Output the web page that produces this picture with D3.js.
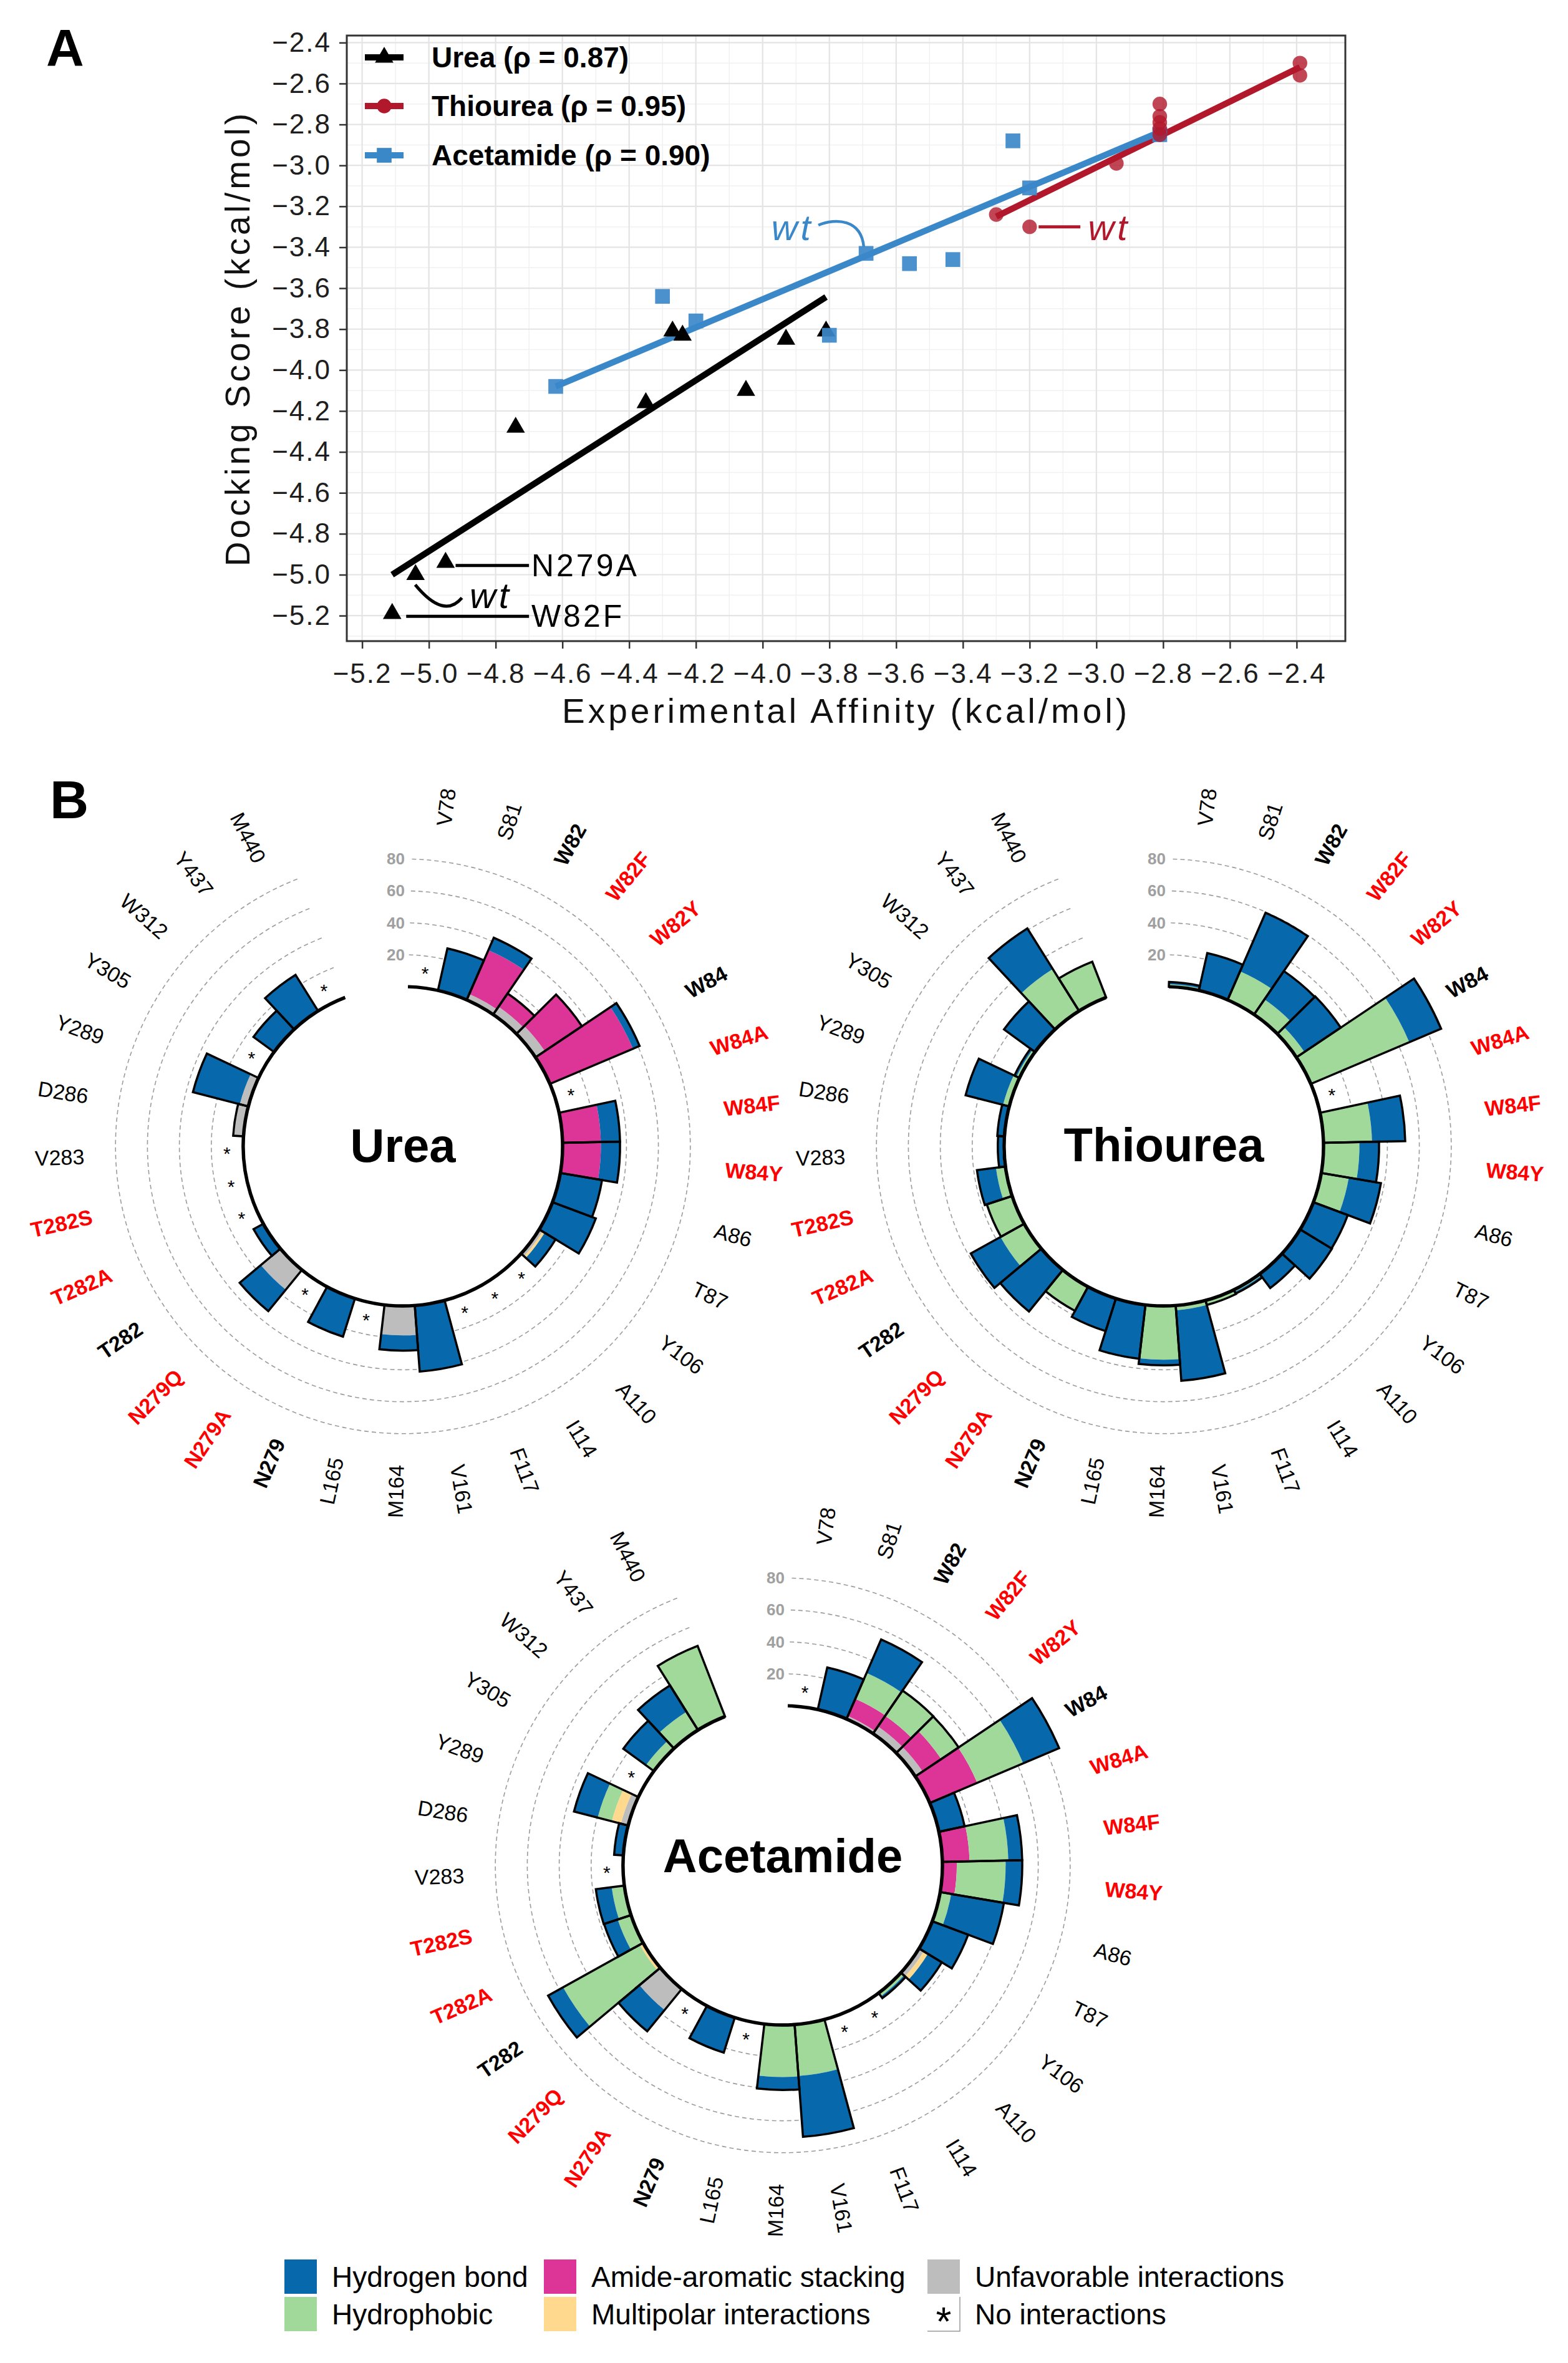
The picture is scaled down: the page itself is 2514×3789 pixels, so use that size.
<!DOCTYPE html>
<html><head><meta charset="utf-8">
<script src="https://cdn.jsdelivr.net/npm/d3@7"></script>
<style>
body{margin:0;background:#fff}
svg{display:block}
text{font-family:"Liberation Sans",Arial,Helvetica,sans-serif}
</style>
</head><body>
<svg id="fig" width="2514" height="3789"></svg>
<script>
// ================= Panel A data =================
const ureaX = [-5.11, -5.04, -4.95, -4.74, -4.35, -4.27, -4.24, -4.05, -3.93, -3.81];
const ureaY = [-5.19, -5.00, -4.94, -4.28, -4.16, -3.81, -3.83, -4.10, -3.85, -3.81];
const thioX = [-3.30, -3.20, -2.94, -2.81, -2.81, -2.81, -2.81, -2.81, -2.39, -2.39];
const thioY = [-3.24, -3.30, -2.99, -2.70, -2.76, -2.79, -2.82, -2.85, -2.50, -2.56];
const acetX = [-4.62, -4.30, -4.20, -3.80, -3.69, -3.56, -3.43, -3.25, -3.20, -2.81];
const acetY = [-4.08, -3.64, -3.76, -3.83, -3.43, -3.48, -3.46, -2.88, -3.11, -2.85];
// regression line end points (x, y)
const fitUreaX = [-5.11, -3.81], fitUreaY = [-5.00, -3.643];
const fitThioX = [-3.30, -2.39], fitThioY = [-3.25, -2.52];
const fitAcetX = [-4.62, -2.80], fitAcetY = [-4.08, -2.83];
const seriesNames = ["Urea (\u03C1 = 0.87)", "Thiourea (\u03C1 = 0.95)", "Acetamide (\u03C1 = 0.90)"];
const axisTicks = [-5.2, -5.0, -4.8, -4.6, -4.4, -4.2, -4.0, -3.8, -3.6, -3.4, -3.2, -3.0, -2.8, -2.6, -2.4];

// ================= Panel B data =================
const residues = ["V78","S81","W82","W82F","W82Y","W84","W84A","W84F","W84Y","A86","T87","Y106","A110","I114","F117",
  "V161","M164","L165","N279","N279A","N279Q","T282","T282A","T282S","V283","D286","Y289","Y305","W312","Y437","M440"];
const mutantResidues = ["W82F","W82Y","W84A","W84F","W84Y","N279A","N279Q","T282A","T282S"];
const wildtypeResidues = ["W82","W84","N279","T282"];
const interactionKeys = ["UF","MP","AA","HP","HB"];
const interactionNames = ["Unfavorable interactions","Multipolar interactions","Amide-aromatic stacking","Hydrophobic","Hydrogen bond"];
const radialTicks = [20, 40, 60, 80];

// Urea
const ureaUF = [0,0,4,6,7,0,0,0,0,0,0,2.5,0,0,0,0,18.5,0,0,0,16,0,0,0,0,6.5,5.5,0,0,0,0];
const ureaMP = [0,0,0,0,0,0,0,0,0,0,0,1.5,0,0,0,0,0,0,0,0,0,0,0,0,0,0,0,0,0,0,0];
const ureaAA = [0,0,30,10,28,56.5,0,24,24,0,0,0,0,0,0,0,0,0,0,0,0,0,0,0,0,0,0,0,0,0,0];
const ureaHP = [0,0,0,0,0,0,0,0,0,0,0,0,0,0,0,0,0,0,0,0,0,0,0,0,0,0,0,0,0,0,0];
const ureaHB = [0,27,8.5,0,0,4.5,0,12,12,26.5,29,8,0,0,0,41.5,9.5,0,25,0,17.3,7,0,0,0,0,30.3,0,16,26.7,0];
// Thiourea
const thioUF = [0,0,0,0,0,0,0,0,0,0,0,0,0,0,0,0,0,0,0,0,0,0,0,0,0,0,0,0,0,0,0];
const thioMP = [0,0,0,0,0,0,0,0,0,0,0,0,0,0,0,0,0,0,0,0,0,0,0,0,0,0,0,0,0,0,0];
const thioAA = [0,0,0,0,0,0,0,0,0,0,0,0,0,0,0,0,0,0,0,0,0,0,0,0,0,0,0,0,0,0,0];
const thioHP = [1.5,0,19.5,11.5,6,67,0,30.4,22.5,17.5,0,0,0,1.5,3,3,33.7,0,0,17.2,0,17,16.7,6,1,0,4,2,0,31,24];
const thioHB = [1.5,24,40,21.5,27.4,21.6,0,20.8,12.3,20.4,23,23.3,11,1.2,0,44.3,3.5,34,21.4,0,33.6,21.3,0,12,3,4.5,24.2,1.5,24,30,0];
// Acetamide
const acetUF = [0,0,2,5.5,5.5,0,0,0,0,0,0,3.5,0,0,0,0,0,0,0,0,17,0,0,0,0,0,4.7,0,0,0,0];
const acetMP = [0,0,0,0,0,0,0,0,0,0,0,3,0,0,0,0,0,0,0,0,0,2.5,0,0,0,0,5.9,0,0,0,0];
const acetAA = [0,0,11.8,8,14,32.3,0,17,9,0,0,0,0,0,0,0,0,0,0,0,0,0,0,0,0,0,0,0,0,0,0];
const acetHP = [0,0,17.6,19.2,13.1,31.3,0,24.3,30.6,7,0,0,2.5,0,0,32.3,32.6,0,0,0,0,54.9,8.8,8,0,0,9.1,0,6.2,13.5,47.4];
const acetHB = [0,27,22.9,0,0,24.4,16.5,8.7,10.4,33.5,24,10.2,1.5,0,0,38.2,8.1,0,23,0,17.2,10.7,9,10,0,5.8,15.3,0,17.5,19.5,0];

// ================= styles =================
const colInter = {UF:"#BDBDBD", MP:"#FED98E", AA:"#DD3497", HP:"#A1D99B", HB:"#0868AC"};
const colUrea = "#000000", colThio = "#B2182B", colAcet = "#3B88C9";

const svg = d3.select("#fig");
svg.append("rect").attr("width",2514).attr("height",3789).attr("fill","#fff");

// ================= Panel A =================
(function(){
  const allX = ureaX.concat(thioX, acetX), allY = ureaY.concat(thioY, acetY);
  const [xa, xb] = d3.extent(allX), [ya, yb] = d3.extent(allY);
  const xr = xb - xa, yr = yb - ya;
  const L = 556, R = 2157, T = 57, B = 1028;
  const x = d3.scaleLinear().domain([xa - 0.05*xr, xb + 0.05*xr]).range([L, R]);
  const y = d3.scaleLinear().domain([ya - 0.05*yr, yb + 0.05*yr]).range([B, T]);
  const g = svg.append("g");

  const minor = d3.range(16).map(i => -5.3 + 0.2*i);
  const xd = x.domain(), yd = y.domain();
  g.selectAll(".mgx").data(minor.filter(v => v > xd[0] && v < xd[1])).join("line")
    .attr("x1", d => x(d)).attr("x2", d => x(d)).attr("y1", T).attr("y2", B)
    .attr("stroke", "#f1f1f1").attr("stroke-width", 1.5);
  g.selectAll(".mgy").data(minor.filter(v => v > yd[0] && v < yd[1])).join("line")
    .attr("y1", d => y(d)).attr("y2", d => y(d)).attr("x1", L).attr("x2", R)
    .attr("stroke", "#f1f1f1").attr("stroke-width", 1.5);
  g.selectAll(".gx").data(axisTicks).join("line")
    .attr("x1", d => x(d)).attr("x2", d => x(d)).attr("y1", T).attr("y2", B)
    .attr("stroke", "#e4e4e4").attr("stroke-width", 2.2);
  g.selectAll(".gy").data(axisTicks).join("line")
    .attr("y1", d => y(d)).attr("y2", d => y(d)).attr("x1", L).attr("x2", R)
    .attr("stroke", "#e4e4e4").attr("stroke-width", 2.2);

  // axes
  const fmt = d3.format(".1f");
  const ax = g.append("g").attr("transform", `translate(0,${B})`)
    .call(d3.axisBottom(x).tickValues(axisTicks).tickSize(12).tickPadding(24).tickFormat(fmt));
  const ay = g.append("g").attr("transform", `translate(${L},0)`)
    .call(d3.axisLeft(y).tickValues(axisTicks).tickSize(12).tickPadding(13).tickFormat(fmt));
  [ax, ay].forEach(a => {
    a.select(".domain").remove();
    a.selectAll(".tick line").attr("stroke", "#333").attr("stroke-width", 2.5);
    a.selectAll(".tick text").attr("font-size", 44).attr("fill", "#1e1e1e")
      .attr("font-family", "'Liberation Sans',Arial,sans-serif").style("letter-spacing", "2px");
  });

  g.append("rect").attr("x", L).attr("y", T).attr("width", R - L).attr("height", B - T)
    .attr("fill", "none").attr("stroke", "#333").attr("stroke-width", 3);

  // axis titles
  g.append("text").attr("x", (L + R)/2).attr("y", 1159).attr("text-anchor", "middle")
    .attr("font-size", 55).style("letter-spacing", "5px").attr("fill", "#111")
    .text("Experimental Affinity (kcal/mol)");
  g.append("text").attr("transform", `translate(381,${(T + B)/2}) rotate(-90)`)
    .attr("text-anchor", "middle").attr("dominant-baseline", "central")
    .attr("font-size", 55).style("letter-spacing", "5px").attr("fill", "#111")
    .text("Docking Score (kcal/mol)");

  // regression lines
  const line = d3.line().x(d => x(d[0])).y(d => y(d[1]));
  const fits = [
    [d3.zip(fitUreaX, fitUreaY), colUrea],
    [d3.zip(fitThioX, fitThioY), colThio],
    [d3.zip(fitAcetX, fitAcetY), colAcet]];
  fits.forEach(([pts, c]) => g.append("path").attr("d", line(pts)).attr("fill", "none")
    .attr("stroke", c).attr("stroke-width", 10));

  // annotations
  const annot = g.append("g");
  annot.append("line").attr("x1", x(-4.92)).attr("x2", x(-4.70)).attr("y1", y(-4.955)).attr("y2", y(-4.955))
    .attr("stroke", "#000").attr("stroke-width", 5);
  annot.append("text").attr("x", x(-4.693)).attr("y", y(-4.955)).attr("dominant-baseline", "central")
    .attr("font-size", 50).style("letter-spacing", "4px").text("N279A");
  annot.append("line").attr("x1", x(-5.068)).attr("x2", x(-4.70)).attr("y1", y(-5.203)).attr("y2", y(-5.203))
    .attr("stroke", "#000").attr("stroke-width", 5);
  annot.append("text").attr("x", x(-4.693)).attr("y", y(-5.203)).attr("dominant-baseline", "central")
    .attr("font-size", 50).style("letter-spacing", "4px").text("W82F");
  const pb = d3.path();
  pb.moveTo(x(-5.041), y(-5.049)); pb.quadraticCurveTo(x(-4.955), y(-5.219), x(-4.901), y(-5.113));
  annot.append("path").attr("d", pb.toString()).attr("fill", "none").attr("stroke", "#000").attr("stroke-width", 5);
  annot.append("text").attr("x", x(-4.878)).attr("y", y(-5.102)).attr("dominant-baseline", "central")
    .attr("font-size", 58).attr("font-style", "italic").style("letter-spacing", "5px").text("wt");
  const pbl = d3.path();
  pbl.moveTo(x(-3.833), y(-3.292)); pbl.bezierCurveTo(x(-3.78), y(-3.255), x(-3.705), y(-3.265), x(-3.697), y(-3.397));
  annot.append("path").attr("d", pbl.toString()).attr("fill", "none").attr("stroke", colAcet).attr("stroke-width", 4.5);
  annot.append("text").attr("x", x(-3.974)).attr("y", y(-3.303)).attr("dominant-baseline", "central")
    .attr("font-size", 58).attr("font-style", "italic").attr("fill", colAcet).style("letter-spacing", "5px").text("wt");
  annot.append("line").attr("x1", x(-3.173)).attr("x2", x(-3.048)).attr("y1", y(-3.30)).attr("y2", y(-3.30))
    .attr("stroke", colThio).attr("stroke-width", 5);
  annot.append("text").attr("x", x(-3.025)).attr("y", y(-3.303)).attr("dominant-baseline", "central")
    .attr("font-size", 58).attr("font-style", "italic").attr("fill", colThio).style("letter-spacing", "5px").text("wt");

  // points
  const tri = d3.symbol(d3.symbolTriangle, 380)();
  const cir = d3.symbol(d3.symbolCircle, 430)();
  const sq = d3.symbol(d3.symbolSquare, 560)();
  g.selectAll(".pu").data(d3.zip(ureaX, ureaY)).join("path").attr("d", tri)
    .attr("transform", d => `translate(${x(d[0])},${y(d[1])})`).attr("fill", colUrea);
  g.selectAll(".pa").data(d3.zip(acetX, acetY)).join("path").attr("d", sq)
    .attr("transform", d => `translate(${x(d[0])},${y(d[1])})`).attr("fill", colAcet).attr("fill-opacity", 0.92);
  g.selectAll(".pt").data(d3.zip(thioX, thioY)).join("path").attr("d", cir)
    .attr("transform", d => `translate(${x(d[0])},${y(d[1])})`).attr("fill", colThio).attr("fill-opacity", 0.8);

  // legend
  const leg = g.append("g");
  const legRows = [92, 170, 249];
  const legCols = [colUrea, colThio, colAcet];
  const legSym = [tri, cir, sq];
  legRows.forEach((ry, i) => {
    leg.append("line").attr("x1", 585).attr("x2", 647).attr("y1", ry).attr("y2", ry)
      .attr("stroke", legCols[i]).attr("stroke-width", 10);
    leg.append("path").attr("d", legSym[i]).attr("transform", `translate(616,${ry})`).attr("fill", legCols[i]);
    leg.append("text").attr("x", 692).attr("y", ry).attr("dominant-baseline", "central")
      .attr("font-size", 46).attr("font-weight", "bold").text(seriesNames[i]);
  });

  svg.append("text").attr("x", 74).attr("y", 106).attr("font-size", 84).attr("font-weight", "bold").text("A");
})();

// ================= Panel B =================
svg.append("text").attr("x", 80).attr("y", 1312).attr("font-size", 86).attr("font-weight", "bold").text("B");

const deg = Math.PI / 180;
const angle = d3.scaleBand().domain(residues).range([1.8*deg, 338.8*deg]).paddingInner(0).paddingOuter(0);
const radius = d3.scaleLinear().domain([0, 80]).range([256, 460.8]);

function drawPolar(cfg){
  const g = svg.append("g").attr("transform", `translate(${cfg.cx},${cfg.cy})`);
  const a0 = angle.range()[0], a1 = angle.range()[1], bw = angle.bandwidth();
  // dashed grid arcs
  radialTicks.forEach(v => {
    const p = d3.path();
    p.arc(0, 0, radius(v), a0 - Math.PI/2, a1 - Math.PI/2, false);
    g.append("path").attr("d", p.toString()).attr("fill", "none").attr("stroke", "#9c9c9c")
      .attr("stroke-width", 1.6).attr("stroke-dasharray", "7,5");
  });
  const rows = residues.map((r, i) => {
    const o = {res: r};
    interactionKeys.forEach(k => o[k] = cfg.vals[k][i]);
    o.total = d3.sum(interactionKeys, k => o[k]);
    return o;
  });
  const stack = d3.stack().keys(interactionKeys)(rows);
  const arc = d3.arc();
  stack.forEach(layer => {
    g.append("g").selectAll("path").data(layer.filter(d => d[1] - d[0] > 0)).join("path")
      .attr("d", d => arc({innerRadius: radius(d[0]), outerRadius: radius(d[1]),
        startAngle: angle(d.data.res), endAngle: angle(d.data.res) + bw}))
      .attr("fill", colInter[layer.key]);
  });
  g.append("g").selectAll("path").data(rows.filter(d => d.total > 0)).join("path")
    .attr("d", d => arc({innerRadius: radius(0), outerRadius: radius(d.total),
      startAngle: angle(d.res), endAngle: angle(d.res) + bw}))
    .attr("fill", "none").attr("stroke", "#000").attr("stroke-width", 3.5).attr("stroke-linejoin", "miter");
  // base arc
  const pbase = d3.path();
  pbase.arc(0, 0, radius(0), a0 - Math.PI/2, a1 - Math.PI/2, false);
  g.append("path").attr("d", pbase.toString()).attr("fill", "none").attr("stroke", "#000").attr("stroke-width", 5.5);
  // no-interaction stars
  g.append("g").selectAll("text").data(rows.filter(d => d.total === 0)).join("text")
    .attr("x", d => radius(10.3) * Math.sin(angle(d.res) + bw/2))
    .attr("y", d => -radius(10.3) * Math.cos(angle(d.res) + bw/2) + 13)
    .attr("text-anchor", "middle").attr("font-size", 30).text("*");
  // residue labels
  g.append("g").selectAll("text").data(residues).join("text")
    .each(function(r){
      const th = angle(r) + bw/2, thd = th / deg;
      const right = thd < 180;
      const rr = right ? 518 : 511;
      const rot = right ? thd - 90 : thd + 90;
      const sel = d3.select(this);
      sel.attr("transform", `translate(${rr*Math.sin(th)},${-rr*Math.cos(th)}) rotate(${rot})`)
        .attr("text-anchor", right ? "start" : "end")
        .attr("dominant-baseline", "central")
        .attr("font-size", 34)
        .attr("font-weight", (mutantResidues.includes(r) || wildtypeResidues.includes(r)) ? "bold" : "normal")
        .attr("fill", mutantResidues.includes(r) ? "#FF0000" : "#000")
        .text(r);
    });
  // radial tick labels
  g.append("g").selectAll("text").data(radialTicks).join("text")
    .attr("x", 3).attr("y", d => -radius(d)).attr("text-anchor", "end").attr("dominant-baseline", "central")
    .attr("font-size", 26).attr("font-weight", "bold").attr("fill", "#a0a0a0").text(d => d);
  // title
  g.append("text").attr("x", 0).attr("y", cfg.titleY).attr("text-anchor", "middle")
    .attr("font-size", 76).attr("font-weight", "bold").text(cfg.name);
}

drawPolar({name: "Urea", cx: 646, cy: 1838, titleY: 25,
  vals: {UF: ureaUF, MP: ureaMP, AA: ureaAA, HP: ureaHP, HB: ureaHB}});
drawPolar({name: "Thiourea", cx: 1866, cy: 1838, titleY: 24,
  vals: {UF: thioUF, MP: thioMP, AA: thioAA, HP: thioHP, HB: thioHB}});
drawPolar({name: "Acetamide", cx: 1255, cy: 2991, titleY: 11,
  vals: {UF: acetUF, MP: acetMP, AA: acetAA, HP: acetHP, HB: acetHB}});

// ================= Legend (bottom) =================
(function(){
  const g = svg.append("g");
  const items = [
    {key: "HB", label: interactionNames[4], x: 456, y: 3623},
    {key: "AA", label: interactionNames[2], x: 872, y: 3623},
    {key: "UF", label: interactionNames[0], x: 1487, y: 3623},
    {key: "HP", label: interactionNames[3], x: 456, y: 3683},
    {key: "MP", label: interactionNames[1], x: 872, y: 3683},
    {key: "NONE", label: "No interactions", x: 1487, y: 3683}];
  items.forEach(it => {
    if (it.key === "NONE") {
      g.append("rect").attr("x", it.x).attr("y", it.y).attr("width", 52).attr("height", 55).attr("fill", "#fff");
      g.append("path").attr("d", `M${it.x + 52},${it.y}V${it.y + 55}H${it.x}`).attr("fill", "none")
        .attr("stroke", "#999").attr("stroke-width", 1.5);
      g.append("text").attr("x", it.x + 26).attr("y", it.y + 62).attr("text-anchor", "middle")
        .attr("font-size", 64).text("*");
    } else {
      g.append("rect").attr("x", it.x).attr("y", it.y).attr("width", 52).attr("height", 55).attr("fill", colInter[it.key]);
    }
    g.append("text").attr("x", it.x + 76).attr("y", it.y + 28).attr("dominant-baseline", "central")
      .attr("font-size", 46).text(it.label);
  });
})();
</script>
</body></html>
